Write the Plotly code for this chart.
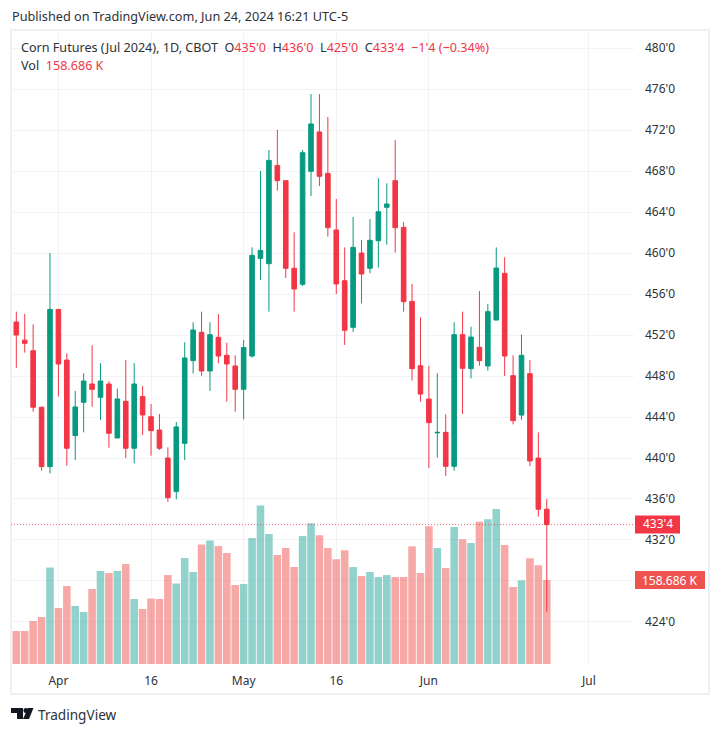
import plotly.graph_objects as go

# daily sessions, Corn Futures (Jul 2024)
dates = [
    "2024-03-22", "2024-03-25", "2024-03-26", "2024-03-27", "2024-03-28",
    "2024-04-01", "2024-04-02", "2024-04-03", "2024-04-04", "2024-04-05",
    "2024-04-08", "2024-04-09", "2024-04-10", "2024-04-11", "2024-04-12",
    "2024-04-15", "2024-04-16", "2024-04-17", "2024-04-18", "2024-04-19",
    "2024-04-22", "2024-04-23", "2024-04-24", "2024-04-25", "2024-04-26",
    "2024-04-29", "2024-04-30", "2024-05-01", "2024-05-02", "2024-05-03",
    "2024-05-06", "2024-05-07", "2024-05-08", "2024-05-09", "2024-05-10",
    "2024-05-13", "2024-05-14", "2024-05-15", "2024-05-16", "2024-05-17",
    "2024-05-20", "2024-05-21", "2024-05-22", "2024-05-23", "2024-05-24",
    "2024-05-28", "2024-05-29", "2024-05-30", "2024-05-31",
    "2024-06-03", "2024-06-04", "2024-06-05", "2024-06-06", "2024-06-07",
    "2024-06-10", "2024-06-11", "2024-06-12", "2024-06-13", "2024-06-14",
    "2024-06-17", "2024-06-18", "2024-06-20", "2024-06-21", "2024-06-24",
]
future_dates = ["2024-06-25", "2024-06-26", "2024-06-27", "2024-06-28", "2024-07-01"]

opens = [
    453.27, 451.5, 450.47, 444.95, 439.16, 454.5, 449.56, 442.18, 445.43, 447.22,
    445.92, 447.22, 441.95, 445.53, 440.95, 445.99, 444.03, 442.73, 440.0, 436.72,
    441.43, 449.5, 452.26, 448.49, 451.77, 450.02, 448.98, 446.7, 449.95, 459.48,
    458.96, 468.55, 467.06, 458.51, 456.95, 467.97, 471.81, 467.77, 462.25, 457.3,
    452.75, 460.0, 458.51, 461.2, 464.46, 467.06, 462.5, 455.28, 449.0, 445.75,
    442.45, 442.5, 439.19, 452.03, 448.72, 450.8, 448.98, 453.46, 458.02, 448.03,
    444.19, 448.23, 440.0, 435.0,
]
highs = [
    454.28, 454.05, 453.04, 445.0, 460.0, 454.5, 450.2, 446.54, 448.26, 451.0,
    449.24, 447.5, 446.77, 449.56, 449.24, 447.03, 445.27, 444.29, 441.04, 443.51,
    451.29, 453.24, 454.28, 453.24, 454.05, 451.25, 450.02, 451.51, 460.55, 468.0,
    470.05, 472.03, 467.06, 462.02, 470.05, 475.51, 475.51, 473.27, 465.27, 460.55,
    463.51, 461.27, 463.29, 467.29, 466.8, 471.02, 463.02, 456.98, 453.72, 449.0,
    448.26, 444.26, 453.24, 454.28, 452.81, 456.29, 455.02, 460.55, 459.58, 450.02,
    452.03, 449.56, 442.5, 436.0,
]
lows = [
    448.8, 450.28, 444.52, 438.77, 438.5, 446.0, 439.25, 439.8, 442.5, 445.0,
    443.7, 441.0, 441.95, 440.0, 439.48, 442.25, 440.23, 440.78, 435.74, 435.97,
    439.8, 448.23, 448.03, 446.54, 449.24, 445.5, 444.52, 443.77, 449.79, 457.37,
    454.28, 466.08, 457.56, 454.28, 456.78, 465.56, 466.54, 461.6, 456.0, 451.03,
    452.3, 455.09, 458.02, 458.57, 460.81, 460.03, 454.28, 447.55, 445.5, 439.02,
    440.03, 438.24, 438.76, 444.29, 447.77, 449.0, 448.52, 453.46, 448.0, 443.28,
    443.74, 439.22, 434.28, 425.0,
]
closes = [
    452.0, 451.19, 444.95, 439.16, 454.5, 449.17, 440.95, 444.98, 447.51, 446.7,
    447.51, 442.41, 445.76, 440.95, 447.22, 444.2, 442.67, 440.95, 436.13, 443.03,
    449.76, 452.49, 448.49, 452.03, 449.95, 449.17, 446.7, 450.77, 459.77, 460.26,
    469.04, 467.06, 458.51, 456.49, 469.79, 472.59, 467.48, 462.47, 456.98, 452.46,
    460.55, 457.95, 461.24, 464.03, 464.78, 462.47, 455.25, 448.72, 446.24, 443.45,
    442.5, 439.19, 452.03, 448.75, 451.8, 449.5, 454.28, 458.54, 449.95, 443.64,
    450.02, 439.71, 435.0, 433.5,
]
volumes = [
    62.3, 62.3, 81.2, 88.8, 182.3, 105.8, 147.3, 109.6, 98.2, 141.7,
    175.7, 171.9, 175.7, 188.9, 122.8, 103.9, 123.7, 122.8, 168.1, 152.1,
    200.2, 173.8, 225.7, 233.3, 222.9, 209.7, 149.2, 151.1, 238.0, 299.4,
    245.6, 205.9, 219.1, 183.2, 241.8, 265.8, 243.1, 219.1, 197.8, 214.8,
    183.2, 166.2, 173.8, 164.3, 168.1, 164.3, 164.3, 222.3, 171.9, 260.1,
    219.1, 181.3, 258.8, 235.6, 228.6, 268.8, 273.3, 292.8, 224.8, 145.5,
    158.1, 199.7, 186.4, 158.686,
]

price_ticks = [424, 428, 432, 436, 440, 444, 448, 452, 456, 460, 464, 468, 472, 476, 480]
# 428 label sits behind the volume tag on the original
price_labels = ["424'0", "", "432'0", "436'0", "440'0", "444'0", "448'0", "452'0",
                "456'0", "460'0", "464'0", "468'0", "472'0", "476'0", "480'0"]
date_ticks = ["2024-04-01", "2024-04-16", "2024-05-01", "2024-05-16", "2024-06-03", "2024-07-01"]
date_labels = ["Apr", "16", "May", "16", "Jun", "Jul"]

RED = "#f23645"
GREEN = "#089981"
TEXT = "#2e3238"
GRID = "#f2f3f6"
FRAME = "#eef0f5"
FONT = "Noto Sans"

# page pixels of the plot area
LEFT, RIGHT, TOP, BOTTOM = 11, 634, 30, 664


def px(x):
    return (x - LEFT) / (RIGHT - LEFT)


def py(y):
    return (BOTTOM - y) / (BOTTOM - TOP)


vol_colors = ["rgba(38,166,154,0.5)" if c >= o else "rgba(239,83,80,0.5)"
              for o, c in zip(opens, closes)]

fig = go.Figure()
fig.add_trace(go.Bar(x=dates, y=volumes, marker=dict(color=vol_colors, line_width=0),
                     yaxis="y", hoverinfo="skip", showlegend=False))
fig.add_trace(go.Candlestick(
    x=dates, open=opens, high=highs, low=lows, close=closes, yaxis="y2",
    increasing=dict(line=dict(color=GREEN, width=1), fillcolor=GREEN),
    decreasing=dict(line=dict(color=RED, width=1), fillcolor=RED),
    whiskerwidth=0, showlegend=False,
))

header = (
    "Corn Futures (Jul 2024), 1D, CBOT  O"
    f"<span style='color:{RED}'>435'0</span>  H<span style='color:{RED}'>436'0</span>"
    f"  L<span style='color:{RED}'>425'0</span>  C<span style='color:{RED}'>433'4</span>"
    f"  <span style='color:{RED}'>−1'4 (−0.34%)</span>"
)


def note(text, x, y, size=12.6, color=TEXT, **kw):
    fig.add_annotation(text=text, x=px(x), y=py(y), xref="paper", yref="paper",
                       xanchor="left", yanchor="middle", showarrow=False,
                       font=dict(family=FONT, size=size, color=color), **kw)


note("Published on TradingView.com, Jun 24, 2024 16:21 UTC-5", 10, 16, size=12.7)
note(header, 19, 47)
note(f"Vol  <span style='color:{RED}'>158.686 K</span>", 19, 66)
note("TradingView", 36, 714, size=13.6)

# last price and last volume tags on the scale
fig.add_annotation(text="433'4", x=px(658), y=closes[-1], xref="paper", yref="y2",
                   xanchor="center", yanchor="middle", showarrow=False, yshift=1, borderpad=0,
                   font=dict(family=FONT, size=12, color="white"))
fig.add_annotation(text="158.686 K", x=px(670), y=volumes[-1], xref="paper", yref="y",
                   xanchor="center", yanchor="middle", showarrow=False, borderpad=0,
                   font=dict(family=FONT, size=12, color="white"))

shapes = [
    # outer frame
    dict(type="rect", xref="paper", yref="paper", x0=px(11), x1=px(709), y0=py(694), y1=py(30),
         line=dict(color=FRAME, width=2), layer="below"),
    # last price line
    dict(type="line", xref="paper", yref="y2", x0=0, x1=1, y0=closes[-1], y1=closes[-1],
         line=dict(color="rgba(242,54,69,0.75)", width=1, dash="1px,2px"), layer="above"),
    # tag backgrounds, text goes on top as annotations
    dict(type="rect", xref="paper", yref="y2", ysizemode="pixel", yanchor=closes[-1],
         x0=px(635), x1=px(680), y0=-9, y1=9, fillcolor=RED, line_width=0, layer="above"),
    dict(type="rect", xref="paper", yref="y", ysizemode="pixel", yanchor=volumes[-1],
         x0=px(635), x1=px(705), y0=-9, y1=9, fillcolor="#ef5350", line_width=0, layer="above"),
    # logo
    dict(type="path", xref="paper", yref="paper", fillcolor="#131722", line_width=0,
         path=f"M{px(11)},{py(708)} L{px(23)},{py(708)} L{px(23)},{py(719)} L{px(17)},{py(719)} "
              f"L{px(17)},{py(713)} L{px(11)},{py(713)} Z"),
    dict(type="circle", xref="paper", yref="paper", fillcolor="#131722", line_width=0,
         x0=px(23.5), x1=px(28.5), y0=py(713), y1=py(708)),
    dict(type="path", xref="paper", yref="paper", fillcolor="#131722", line_width=0,
         path=f"M{px(28)},{py(708)} L{px(33.5)},{py(708)} L{px(29)},{py(719)} L{px(23)},{py(719)} Z"),
]

fig.update_layout(
    width=720, height=733,
    margin=dict(l=LEFT, r=720 - RIGHT, t=TOP, b=733 - BOTTOM),
    paper_bgcolor="white", plot_bgcolor="white",
    bargap=0.1, boxgap=0.22, showlegend=False, shapes=shapes,
    font=dict(family=FONT, size=12, color=TEXT),
    xaxis=dict(type="category", categoryorder="array", categoryarray=dates + future_dates,
               range=[-0.63, 73.36], rangeslider=dict(visible=False),
               tickmode="array", tickvals=date_ticks, ticktext=date_labels,
               showgrid=True, gridcolor=GRID, gridwidth=1, ticks="", ticklen=0,
               showline=False, zeroline=False, ticklabelstandoff=8),
    yaxis=dict(range=[0, 1198], visible=False, showgrid=False, fixedrange=True),
    yaxis2=dict(overlaying="y", side="right", range=[419.9, 481.76],
                tickmode="array", tickvals=price_ticks, ticktext=price_labels,
                showgrid=True, gridcolor=GRID, gridwidth=1, zeroline=False,
                showline=False, ticks="", ticklabelstandoff=10),
)

# plotly's page keeps the browser's 8px body margin otherwise
fig.write_html("out.html", config={"displayModeBar": False},
               post_script="document.body.style.margin = '0';")
